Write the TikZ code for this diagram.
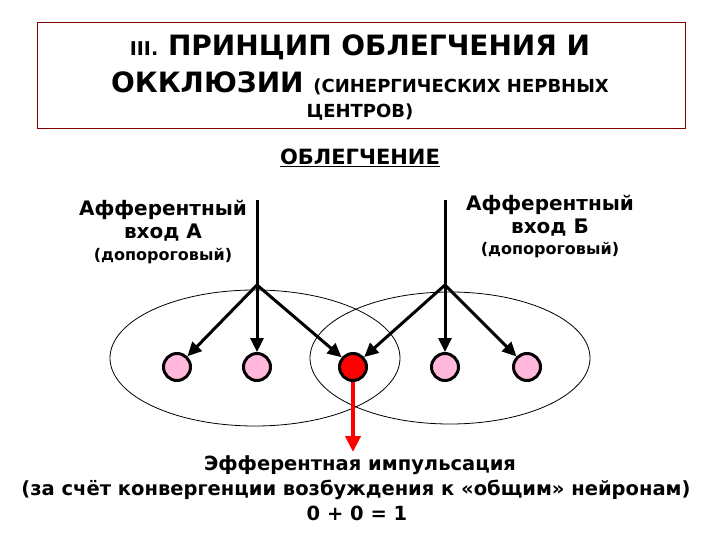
\documentclass[tikz,border=0pt]{standalone}
\usepackage{fontspec}
\setmainfont{DejaVu Sans}
\usetikzlibrary{arrows.meta}
\begin{document}
\begin{tikzpicture}[x=1pt,y=-1pt,
  neuron/.style={circle,draw=black,line width=3pt,fill=pink!80!magenta!70,minimum size=27pt,inner sep=0pt},
  inarrow/.style={line width=3pt,-{Triangle[length=14pt,width=13pt]}},
  lbl/.style={align=center,inner sep=0pt}]
\useasboundingbox (0,0) rectangle (720,540);
\fill[white] (0,0) rectangle (720,540);
\draw[red!50!black,line width=0.6pt] (37,22) rectangle (685,128);
\node[lbl,font=\bfseries\fontsize{28}{30}\selectfont] (t1) at (360,47) {{\fontsize{19}{20}\selectfont III.} ПРИНЦИП ОБЛЕГЧЕНИЯ И};
\node[lbl,font=\bfseries\fontsize{28}{30}\selectfont] (t2) at (360,83) {ОККЛЮЗИИ {\fontsize{18}{20}\selectfont(СИНЕРГИЧЕСКИХ НЕРВНЫХ}};
\node[lbl,font=\bfseries\fontsize{18}{20}\selectfont] (t3) at (360,112) {ЦЕНТРОВ)};
\node[lbl,font=\bfseries\fontsize{21}{22}\selectfont] (sub) at (360,158) {\underline{ОБЛЕГЧЕНИЕ}};
\node[lbl,font=\bfseries\fontsize{20}{23}\selectfont] (la) at (163,221) {Афферентный\\вход А};
\node[lbl,font=\bfseries\fontsize{16}{18}\selectfont] (la2) at (163,256) {(допороговый)};
\node[lbl,font=\bfseries\fontsize{20}{23}\selectfont] (lb) at (550,216) {Афферентный\\вход Б};
\node[lbl,font=\bfseries\fontsize{16}{18}\selectfont] (lb2) at (550,250) {(допороговый)};
\draw[line width=0.8pt] (255,358) ellipse (145 and 68);
\draw[line width=0.8pt] (450,358) ellipse (140 and 66);
\node[neuron] (n1) at (177,367) {};
\node[neuron] (n2) at (257,367) {};
\node[neuron,fill=red] (n3) at (353,367) {};
\node[neuron] (n4) at (445,367) {};
\node[neuron] (n5) at (527,367) {};
\coordinate (a0) at (257,200); \coordinate (a1) at (257,285);
\coordinate (b0) at (445,200); \coordinate (b1) at (445,285);
\draw[line width=3pt] (a0) -- (a1);
\draw[line width=3pt] (b0) -- (b1);
\draw[inarrow] (a1) -- (n1);
\draw[inarrow] (a1) -- (n2);
\draw[inarrow] (a1) -- (n3);
\draw[inarrow] (b1) -- (n3);
\draw[inarrow] (b1) -- (n4);
\draw[inarrow] (b1) -- (n5);
\coordinate (out) at (353,452);
\draw[red,line width=4pt,-{Triangle[length=16pt,width=15pt]}] (n3) -- (out);
\node[lbl,font=\bfseries\fontsize{19.5}{20}\selectfont] (e1) at (360,465) {Эфферентная импульсация};
\node[lbl,font=\bfseries\fontsize{19.5}{20}\selectfont] (e2) at (356,490) {(за счёт конвергенции возбуждения к «общим» нейронам)};
\node[lbl,font=\bfseries\fontsize{19.5}{20}\selectfont] (e3) at (357,513) {0 + 0 = 1};
\end{tikzpicture}
\end{document}
